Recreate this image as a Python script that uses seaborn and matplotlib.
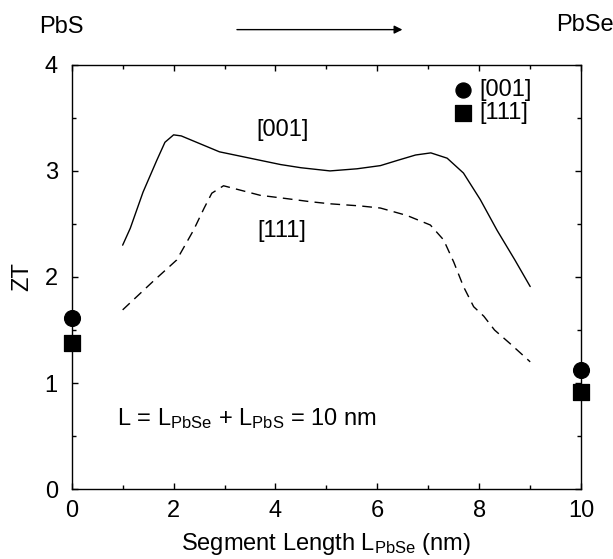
import matplotlib
matplotlib.use("Agg")
import matplotlib.pyplot as plt
import seaborn as sns
import pandas as pd
from matplotlib.ticker import MultipleLocator

# ---- data ----
x_001 = [1.0, 1.15, 1.4, 1.67, 1.83, 2.0, 2.15, 2.5, 2.9, 3.3, 3.7, 4.1, 4.5, 5.07,
         5.6, 6.06, 6.4, 6.75, 7.05, 7.37, 7.69, 8.02, 8.35, 8.7, 9.0]
y_001 = [2.30, 2.46, 2.80, 3.10, 3.27, 3.34, 3.33, 3.26, 3.18, 3.14, 3.10, 3.06, 3.03, 3.00,
         3.02, 3.05, 3.10, 3.15, 3.17, 3.12, 2.98, 2.73, 2.44, 2.16, 1.91]
x_111 = [1.0, 1.6, 2.06, 2.39, 2.6, 2.75, 2.98, 3.3, 3.7, 4.2, 4.68, 5.07, 5.66, 6.06,
         6.58, 7.04, 7.3, 7.5, 7.69, 7.89, 8.09, 8.3, 8.61, 9.0]
y_111 = [1.69, 1.96, 2.16, 2.44, 2.65, 2.79, 2.86, 2.82, 2.77, 2.74, 2.71, 2.69, 2.67, 2.65,
         2.58, 2.49, 2.35, 2.14, 1.91, 1.72, 1.63, 1.50, 1.37, 1.20]
pts_x = [0, 10]
pts_001 = [1.61, 1.12]
pts_111 = [1.38, 0.92]
x_ticks = [0, 2, 4, 6, 8, 10]
y_ticks = [0, 1, 2, 3, 4]

sns.set_theme(style="ticks")
plt.rcParams['font.family'] = ['Liberation Sans', 'DejaVu Sans']
plt.rcParams['mathtext.fontset'] = 'custom'
plt.rcParams['mathtext.rm'] = 'Liberation Sans'
plt.rcParams['mathtext.it'] = 'Liberation Sans'
plt.rcParams['text.color'] = 'black'
plt.rcParams['axes.labelcolor'] = 'black'
plt.rcParams['xtick.color'] = 'black'
plt.rcParams['ytick.color'] = 'black'

FS = 17

fig = plt.figure(figsize=(6.13, 5.59), dpi=100)
ax = fig.add_axes([0.117, 0.125, 0.831, 0.759])

df1 = pd.DataFrame({"x": x_001, "y": y_001})
df2 = pd.DataFrame({"x": x_111, "y": y_111})
sns.lineplot(data=df1, x="x", y="y", ax=ax, color="black", lw=1.0, sort=False)
sns.lineplot(data=df2, x="x", y="y", ax=ax, color="black", lw=1.0, sort=False,
             dashes=False)
ax.lines[-1].set_dashes((7, 4.5))

sns.scatterplot(x=pts_x, y=pts_001, ax=ax, marker="o", s=130, color="black",
                edgecolor="black", clip_on=False, zorder=5, label="[001]")
sns.scatterplot(x=pts_x, y=pts_111, ax=ax, marker="s", s=130, color="black",
                edgecolor="black", clip_on=False, zorder=5, label="[111]")

ax.set_xlim(0, 10)
ax.set_ylim(0, 4)
ax.set_xticks(x_ticks)
ax.set_yticks(y_ticks)
ax.xaxis.set_minor_locator(MultipleLocator(1))
ax.yaxis.set_minor_locator(MultipleLocator(0.5))
ax.tick_params(which="both", direction="in", top=True, right=True, width=1.0,
               colors="black", labelsize=FS, labelcolor="black")
ax.tick_params(which="major", length=4.5, pad=8)
ax.tick_params(which="minor", length=3)
ax.tick_params(axis="y", which="major", pad=10)
for s in ax.spines.values():
    s.set_linewidth(1.0)
    s.set_color("black")

ax.set_xlabel(r"Segment Length L$_{\mathregular{PbSe}}$ (nm)", fontsize=FS, labelpad=6)
ax.set_ylabel("ZT", fontsize=FS, labelpad=8)

ax.text(4.13, 3.39, "[001]", fontsize=FS, ha="center", va="center")
ax.text(4.13, 2.43, "[111]", fontsize=FS, ha="center", va="center")
ax.text(0.88, 0.67, r"L = L$_{\mathregular{PbSe}}$ + L$_{\mathregular{PbS}}$ = 10 nm",
        fontsize=FS, ha="left", va="center")

leg = ax.legend(loc="upper right", frameon=False, fontsize=FS, handletextpad=-0.3,
                borderaxespad=0.1, labelspacing=0.05, markerscale=0.95,
                bbox_to_anchor=(0.926, 0.995))

fig.text(0.1007, 0.952, "PbS", fontsize=FS, ha="center", va="center")
fig.text(0.954, 0.955, "PbSe", fontsize=FS, ha="center", va="center")
fig.add_artist(matplotlib.patches.FancyArrowPatch(
    (0.382, 0.947), (0.661, 0.947), transform=fig.transFigure,
    arrowstyle="-|>", mutation_scale=12, color="black", lw=1.0))

fig.savefig("out.png", dpi=100)
